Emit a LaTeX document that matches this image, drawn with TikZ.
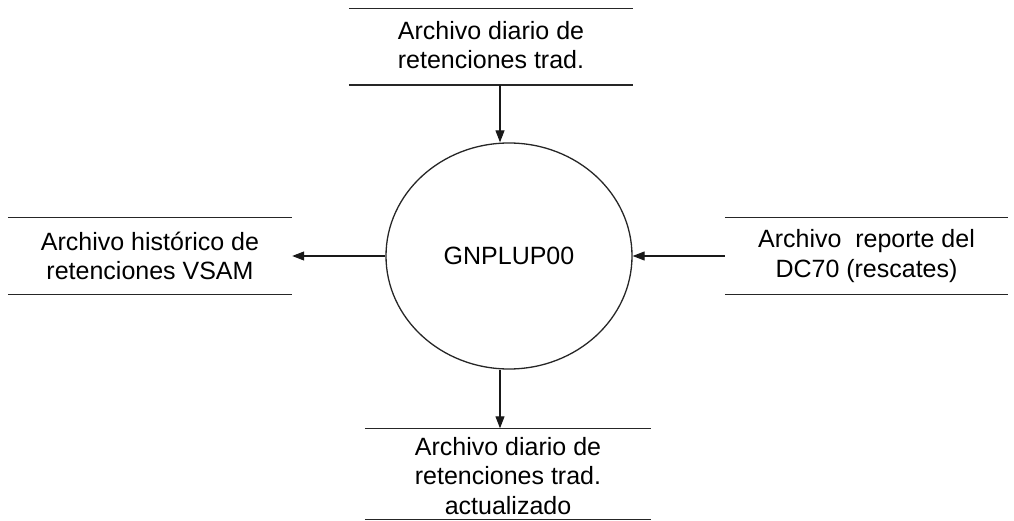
\documentclass[tikz,border=0pt]{standalone}
\usepackage{fontspec}
\setmainfont{Liberation Sans}
\usetikzlibrary{shapes.geometric,arrows.meta}
\begin{document}
\begin{tikzpicture}[x=1pt,y=-1pt,
  storebox/.style={draw=none,inner sep=0pt,minimum width=#1,minimum height=76pt},
  storeline/.style={line width=1.4pt,draw=black!85},
  storetext/.style={align=center,inner sep=0pt,font=\fontsize{25}{29.5}\selectfont},
  process/.style={ellipse,draw=black!85,line width=1.3pt,minimum width=246pt,minimum height=226pt,inner sep=0pt,font=\fontsize{25}{30}\selectfont},
  flow/.style={line width=1.1pt,draw=black!90,-{Triangle[length=12pt,width=9pt]}}]
\useasboundingbox (0,0) rectangle (1014,521);

% central process
\node[process] (p) at (509,256) {GNPLUP00};
\coordinate (axis) at (500,0);

% data stores
\node[storebox=284pt] (top) at (491,47) {};
\node[storetext] (toptxt) at (491,45) {Archivo diario de\\retenciones trad.};

\node[storebox=284pt] (left) at (150,256) {};
\node[storetext] (lefttxt) at (150,256) {Archivo histórico de\\retenciones VSAM};

\node[storebox=283pt] (right) at (866.5,256) {};
\node[storetext] (righttxt) at (866.5,256) {Archivo\ \ reporte del\\DC70 (rescates)};

\node[storebox=286pt,minimum height=91pt] (bot) at (508,474) {};
\node[storetext] (bottxt) at (508,476) {Archivo diario de\\retenciones trad.\\actualizado};

% store edges
\foreach \s in {top,left,right,bot}{
  \draw[storeline] (\s.north west) -- (\s.north east);
  \draw[storeline] (\s.south west) -- (\s.south east);
}

% data flows
\draw[flow] (top.south -| axis) -- (p.north -| axis);
\draw[flow] (p.south -| axis) -- (bot.north -| axis);
\draw[flow] (p.west) -- (left.east);
\draw[flow] (right.west) -- (p.east);
\end{tikzpicture}
\end{document}
